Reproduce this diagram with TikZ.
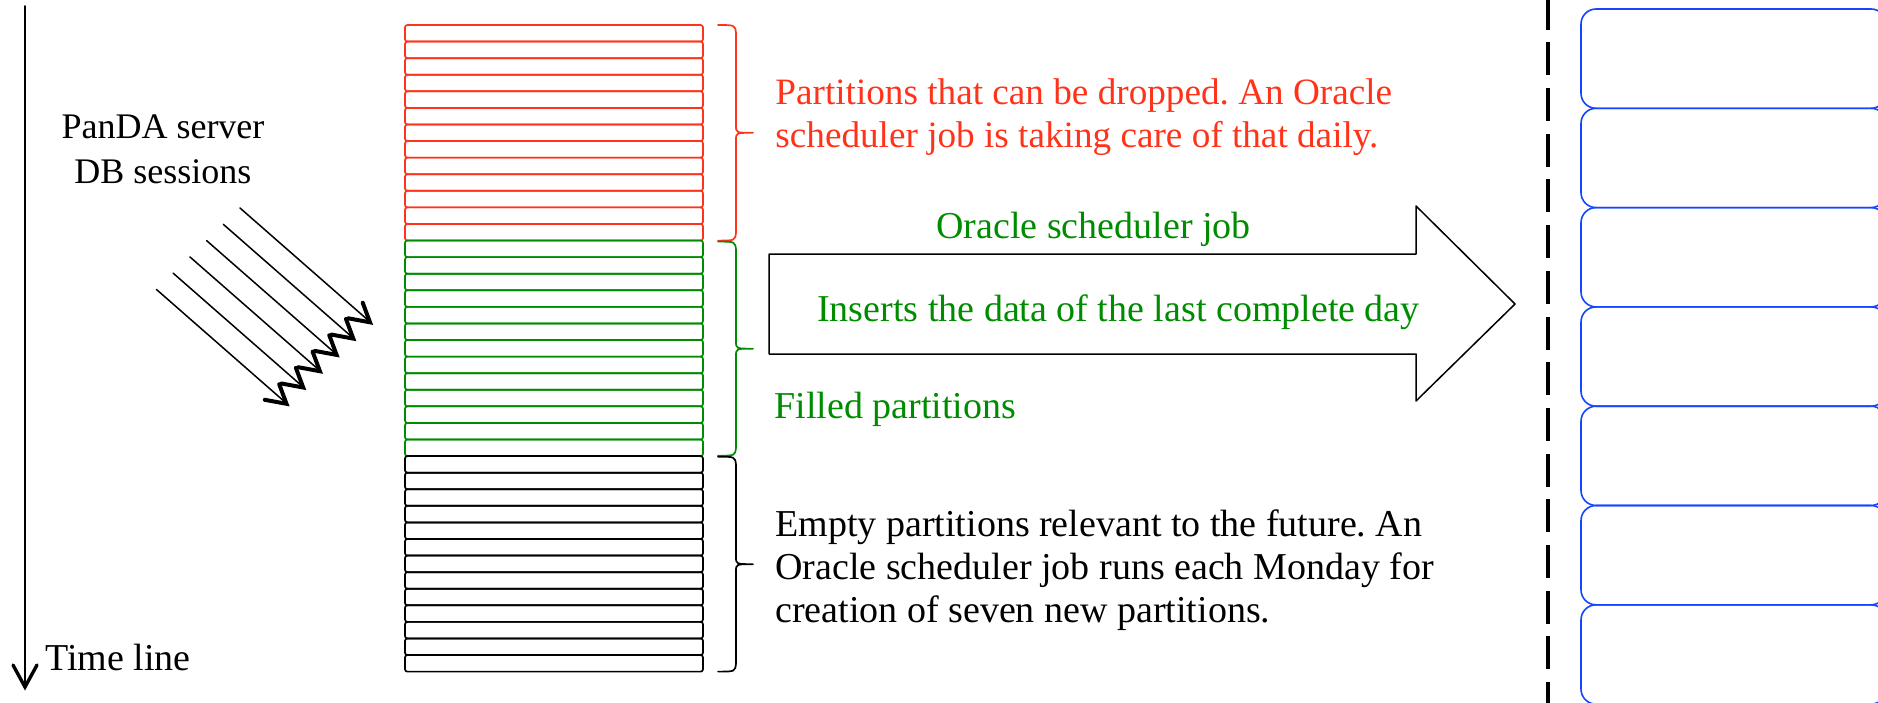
\documentclass[tikz,border=0pt]{standalone}
\usepackage{fontspec}
\setmainfont{Liberation Serif}
\usepackage{tikz}
\definecolor{ffqqqq}{rgb}{1.,0.2,0.1}
\definecolor{qqzzqq}{rgb}{0.,0.55,0.}
\definecolor{qqqqff}{rgb}{0.08,0.27,1.}
\tikzstyle{every node}=[font=\fontsize{19}{21.5}\selectfont\frenchspacing,inner sep=0pt]
\tikzstyle{partrow}=[line width=0.85pt,rounded corners=1.2pt]
\tikzstyle{bluebox}=[line width=0.8pt,color=qqqqff,rounded corners=7.5pt]
\tikzstyle{session}=[line width=0.75pt]
\tikzstyle{barb}=[line width=2pt,line join=miter]
% brace: x, top, bottom, colour
\newcommand{\partbrace}[4]{%
  \draw[line width=0.85pt,color=#4] (#1,#2) .. controls (#1+17,#2) .. (#1+18,#2+8)
    -- (#1+18,{(#2+#3)/2-7}) .. controls (#1+18,{(#2+#3)/2}) .. (#1+35,{(#2+#3)/2})
    .. controls (#1+18,{(#2+#3)/2}) .. (#1+18,{(#2+#3)/2+7})
    -- (#1+18,#3-8) .. controls (#1+17,#3) .. (#1,#3);}

\begin{document}
\begin{tikzpicture}[line cap=round,line join=round,x=0.5pt,y=-0.5pt]

            \useasboundingbox (0,0) rectangle (1878,702);
            \clip (0,0) rectangle (1878,702);
            % time line
            \draw [line width=0.8pt] (25,6) -- (25,686);
            \draw [barb,line width=1.7pt] (13,665) -- (25,687) -- (37,665);
            \node [anchor=west] (timeline) at (45,657) {Time line};
            \node [align=center,font=\fontsize{18}{22.5}\selectfont] (panda) at (163,149) {PanDA server\\DB sessions};
            % sessions
            \foreach \k in {0,...,5}{
              \draw [session] ({240-16.7*\k},{208+16.3*\k}) -- ({369-16.7*\k},{321+16.3*\k});
              \draw [barb] ({362.7-16.7*\k},{302.7+16.3*\k}) -- ({370-16.7*\k},{322.3+16.3*\k}) -- ({348.3-16.7*\k},{318.3+16.3*\k});
            }
            % partitions
            \foreach \i in {0,...,12}
              \draw [partrow,color=ffqqqq] (405,{25+16.58*\i}) rectangle (703,{25+16.58*(\i+1)});
            \foreach \i in {13,...,25}
              \draw [partrow,color=qqzzqq] (405,{25+16.58*\i}) rectangle (703,{25+16.58*(\i+1)});
            \foreach \i in {26,...,38}
              \draw [partrow,color=black] (405,{25+16.58*\i}) rectangle (703,{25+16.58*(\i+1)});
            \partbrace{718}{25}{240.6}{ffqqqq}
            \partbrace{718}{241.6}{455.7}{qqzzqq}
            \partbrace{718}{456.7}{671.6}{black}
            \node [anchor=west,align=left,color=ffqqqq,font=\fontsize{18.6}{21.5}\selectfont\frenchspacing] (dropped) at (775,117.5) {Partitions that can be dropped. An Oracle\\scheduler job is taking care of that daily.};
            \node [anchor=west,color=qqzzqq] (filled) at (774,409) {Filled partitions};
            \node [anchor=west,align=left] (empty) at (775,570) {Empty partitions relevant to the future. An\\Oracle scheduler job runs each Monday for\\creation of seven new partitions.};
            % scheduler job arrow
            \draw [line width=0.75pt] (769,254) -- (1416,254) -- (1416,206) -- (1515,304) -- (1416,401) -- (1416,354) -- (769,354) -- cycle;
            \node [color=qqzzqq] (job) at (1093.5,229) {Oracle scheduler job};
            \node [color=qqzzqq] (inserts) at (1118.5,312) {Inserts the data of the last complete day};
            % archive
            \draw [line width=2pt,line cap=butt,dash pattern=on 16.5pt off 6.35pt] (1548,-3.4) -- (1548,706);
            \foreach \j in {0,...,6}
              \draw [bluebox] (1581,{9+99.3*\j}) rectangle (1886,{9+99.3*(\j+1)});
            \end{tikzpicture}
\end{document}
